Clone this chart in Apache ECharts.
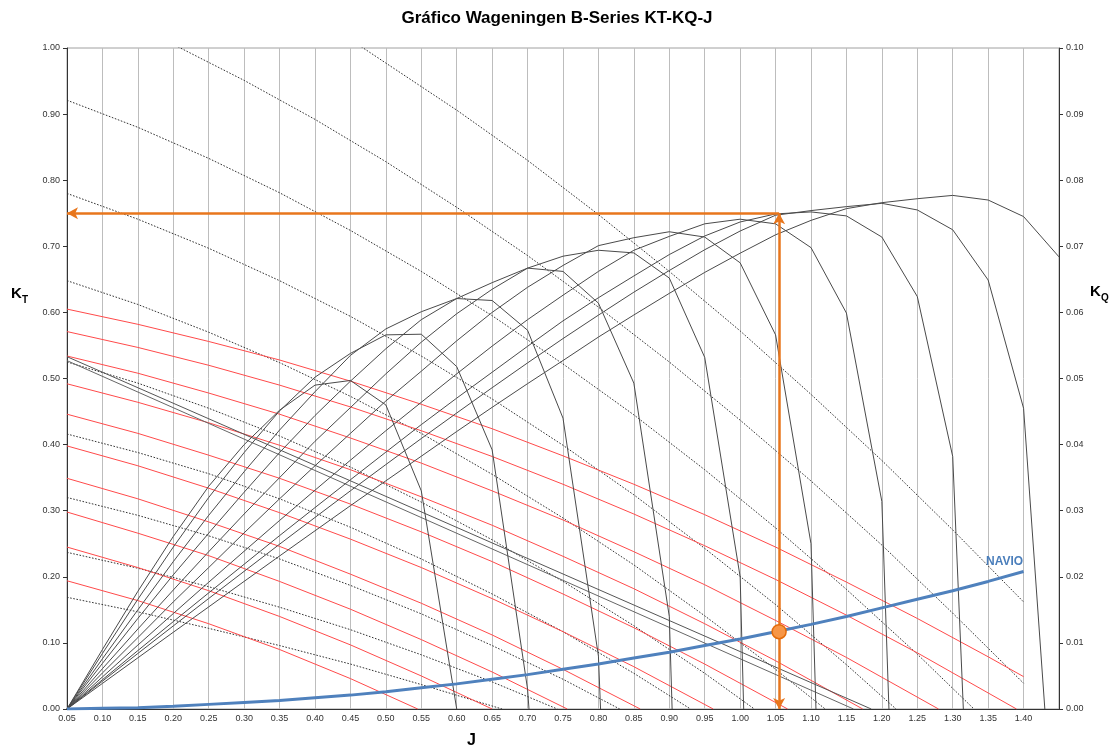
<!DOCTYPE html>
<html><head><meta charset="utf-8">
<script src="https://cdn.jsdelivr.net/npm/echarts/dist/echarts.min.js"></script>
<style>html,body{margin:0;padding:0;background:#fff}#c{width:1114px;height:752px}</style>
</head><body><div id="c"></div>
<script>
// ---- KT curves (red) [J, KT]
const KT1 = [[0.05,0.194],[0.15,0.164],[0.25,0.129],[0.35,0.090],[0.45,0.046],[0.545,0]];
const KT2 = [[0.05,0.245],[0.15,0.214],[0.25,0.179],[0.35,0.140],[0.45,0.097],[0.55,0.050],[0.65,0]];
const KT3 = [[0.05,0.298],[0.15,0.266],[0.25,0.232],[0.35,0.193],[0.45,0.151],[0.55,0.105],[0.65,0.056],[0.756,0]];
const KT4 = [[0.05,0.349],[0.15,0.318],[0.25,0.283],[0.35,0.246],[0.45,0.204],[0.55,0.160],[0.65,0.112],[0.75,0.060],[0.859,0]];
const KT5 = [[0.05,0.398],[0.15,0.368],[0.25,0.334],[0.35,0.297],[0.45,0.257],[0.55,0.214],[0.65,0.167],[0.75,0.117],[0.85,0.064],[0.962,0]];
const KT6 = [[0.05,0.446],[0.15,0.417],[0.25,0.384],[0.35,0.349],[0.45,0.310],[0.55,0.268],[0.65,0.223],[0.75,0.174],[0.85,0.123],[0.95,0.068],[1.067,0]];
const KT7 = [[0.05,0.492],[0.15,0.464],[0.25,0.433],[0.35,0.399],[0.45,0.362],[0.55,0.321],[0.65,0.278],[0.75,0.231],[0.85,0.182],[0.95,0.129],[1.05,0.073],[1.173,0]];
const KT8 = [[0.05,0.534],[0.15,0.508],[0.25,0.478],[0.35,0.446],[0.45,0.410],[0.55,0.372],[0.65,0.330],[0.75,0.286],[0.85,0.238],[0.95,0.188],[1.05,0.134],[1.15,0.078],[1.28,0]];
const KT9 = [[0.05,0.571],[0.15,0.547],[0.25,0.520],[0.35,0.490],[0.45,0.457],[0.55,0.421],[0.65,0.382],[0.75,0.340],[0.85,0.295],[0.95,0.247],[1.05,0.196],[1.15,0.142],[1.25,0.085],[1.39,0]];
const KT10 = [[0.05,0.605],[0.15,0.582],[0.25,0.556],[0.35,0.528],[0.45,0.496],[0.55,0.461],[0.65,0.424],[0.75,0.383],[0.85,0.340],[0.95,0.294],[1.05,0.245],[1.15,0.192],[1.25,0.137],[1.35,0.079],[1.40,0.049]];

// ---- 10KQ curves (dotted) [J, 10KQ]
const KQ1 = [[0.05,0.169],[0.15,0.147],[0.25,0.122],[0.35,0.096],[0.45,0.068],[0.55,0.037],[0.664,0]];
const KQ2 = [[0.05,0.237],[0.15,0.213],[0.25,0.185],[0.35,0.154],[0.45,0.120],[0.55,0.082],[0.65,0.041],[0.742,0]];
const KQ3 = [[0.05,0.320],[0.15,0.293],[0.25,0.262],[0.35,0.227],[0.45,0.187],[0.55,0.144],[0.65,0.096],[0.75,0.045],[0.83,0]];
const KQ4 = [[0.05,0.416],[0.15,0.388],[0.25,0.356],[0.35,0.318],[0.45,0.275],[0.55,0.227],[0.65,0.174],[0.75,0.117],[0.85,0.054],[0.93,0]];
const KQ5 = [[0.05,0.525],[0.15,0.493],[0.25,0.455],[0.35,0.413],[0.45,0.366],[0.55,0.313],[0.65,0.256],[0.75,0.193],[0.85,0.126],[0.95,0.054],[1.02,0]];
const KQ6 = [[0.05,0.648],[0.15,0.612],[0.25,0.570],[0.35,0.524],[0.45,0.473],[0.55,0.417],[0.65,0.355],[0.75,0.289],[0.85,0.218],[0.95,0.141],[1.05,0.060],[1.12,0]];
const KQ7 = [[0.05,0.780],[0.15,0.741],[0.25,0.697],[0.35,0.648],[0.45,0.594],[0.55,0.534],[0.65,0.469],[0.75,0.399],[0.85,0.324],[0.95,0.243],[1.05,0.158],[1.15,0.067],[1.22,0]];
const KQ8 = [[0.05,0.921],[0.15,0.880],[0.25,0.833],[0.35,0.781],[0.45,0.724],[0.55,0.662],[0.65,0.595],[0.75,0.522],[0.85,0.445],[0.95,0.362],[1.05,0.274],[1.15,0.181],[1.25,0.083],[1.33,0]];
const KQ9 = [[0.05,1.077],[0.15,1.030],[0.21,1.0],[0.30,0.951],[0.40,0.892],[0.50,0.828],[0.60,0.759],[0.70,0.686],[0.80,0.608],[0.90,0.525],[1.00,0.437],[1.10,0.345],[1.20,0.248],[1.30,0.145],[1.40,0.039]];
const KQ10 = [[0.40,1.045],[0.468,1.0],[0.60,0.906],[0.70,0.830],[0.80,0.748],[0.90,0.662],[1.00,0.572],[1.10,0.476],[1.20,0.376],[1.30,0.271],[1.40,0.162]];

// ---- efficiency curves (solid dark) [J, eta]
const ETA1 = [[0.05,0],[0.10,0.090],[0.15,0.178],[0.20,0.261],[0.25,0.337],[0.30,0.400],[0.35,0.452],[0.40,0.490],[0.45,0.497],[0.50,0.460],[0.55,0.330],[0.60,0]];
const ETA2 = [[0.05,0],[0.10,0.084],[0.15,0.166],[0.20,0.245],[0.25,0.320],[0.30,0.388],[0.35,0.451],[0.40,0.502],[0.45,0.538],[0.50,0.566],[0.55,0.567],[0.60,0.518],[0.65,0.392],[0.70,0.030],[0.702,0]];
const ETA3 = [[0.05,0],[0.10,0.076],[0.15,0.150],[0.20,0.223],[0.25,0.293],[0.30,0.359],[0.35,0.422],[0.40,0.480],[0.45,0.535],[0.50,0.575],[0.55,0.601],[0.60,0.621],[0.65,0.618],[0.70,0.573],[0.75,0.440],[0.80,0.080],[0.803,0]];
const ETA4 = [[0.05,0],[0.10,0.069],[0.15,0.137],[0.20,0.203],[0.25,0.266],[0.30,0.328],[0.35,0.388],[0.40,0.444],[0.45,0.496],[0.50,0.545],[0.55,0.589],[0.60,0.621],[0.65,0.645],[0.70,0.667],[0.75,0.662],[0.80,0.614],[0.85,0.493],[0.90,0.140],[0.904,0]];
const ETA5 = [[0.05,0],[0.10,0.061],[0.15,0.121],[0.20,0.180],[0.25,0.238],[0.30,0.295],[0.35,0.350],[0.40,0.405],[0.45,0.456],[0.50,0.507],[0.55,0.555],[0.60,0.598],[0.65,0.635],[0.70,0.667],[0.75,0.685],[0.80,0.694],[0.85,0.690],[0.90,0.652],[0.95,0.532],[1.00,0.200],[1.005,0]];
const ETA6 = [[0.05,0],[0.10,0.0545],[0.15,0.108],[0.20,0.162],[0.25,0.214],[0.30,0.2665],[0.35,0.318],[0.40,0.368],[0.45,0.417],[0.50,0.466],[0.55,0.511],[0.60,0.557],[0.65,0.600],[0.70,0.638],[0.75,0.671],[0.80,0.701],[0.85,0.713],[0.90,0.722],[0.95,0.714],[1.00,0.675],[1.05,0.566],[1.10,0.250],[1.107,0]];
const ETA7 = [[0.05,0],[0.10,0.0485],[0.15,0.0967],[0.20,0.1444],[0.25,0.1918],[0.30,0.2387],[0.35,0.2852],[0.40,0.331],[0.45,0.3764],[0.50,0.421],[0.55,0.464],[0.60,0.507],[0.65,0.549],[0.70,0.589],[0.75,0.626],[0.80,0.662],[0.85,0.694],[0.90,0.715],[0.95,0.734],[1.00,0.741],[1.05,0.734],[1.10,0.698],[1.15,0.599],[1.20,0.314],[1.21,0]];
const ETA8 = [[0.05,0],[0.10,0.0443],[0.15,0.0884],[0.20,0.1322],[0.25,0.1757],[0.30,0.219],[0.35,0.2623],[0.40,0.3047],[0.45,0.3468],[0.50,0.3886],[0.55,0.4302],[0.60,0.4703],[0.65,0.5095],[0.70,0.5487],[0.75,0.5872],[0.80,0.6222],[0.85,0.6551],[0.90,0.6875],[0.95,0.7156],[1.00,0.7368],[1.05,0.749],[1.10,0.752],[1.15,0.746],[1.20,0.714],[1.25,0.624],[1.30,0.382],[1.315,0]];
const ETA9 = [[0.05,0],[0.10,0.0421],[0.15,0.084],[0.20,0.1257],[0.25,0.1672],[0.30,0.2083],[0.35,0.2493],[0.40,0.2898],[0.45,0.3301],[0.50,0.3698],[0.55,0.4092],[0.60,0.4478],[0.65,0.4861],[0.70,0.5236],[0.75,0.5604],[0.80,0.5959],[0.85,0.6306],[0.90,0.6634],[0.95,0.6948],[1.00,0.7231],[1.05,0.747],[1.10,0.754],[1.15,0.760],[1.20,0.765],[1.25,0.755],[1.30,0.725],[1.35,0.649],[1.40,0.455],[1.43,0]];
const ETA10 = [[0.05,0],[0.10,0.0387],[0.15,0.0774],[0.20,0.1161],[0.25,0.1545],[0.30,0.1931],[0.35,0.2315],[0.40,0.2696],[0.45,0.3076],[0.50,0.3452],[0.55,0.3824],[0.60,0.4198],[0.65,0.4564],[0.70,0.4922],[0.75,0.5272],[0.80,0.5627],[0.85,0.5961],[0.90,0.6288],[0.95,0.6605],[1.00,0.6896],[1.05,0.7174],[1.10,0.7392],[1.15,0.757],[1.20,0.766],[1.25,0.772],[1.30,0.777],[1.35,0.770],[1.40,0.745],[1.45,0.684]];

// ---- straight solid reference lines
const LINE_A = [[0.05,0.533],[1.185,0]];
const LINE_B = [[0.05,0.527],[1.16,0]];

// ---- ship (NAVIO) curve
const NAVIO_J  = [0.05,0.10,0.15,0.20,0.25,0.30,0.35,0.40,0.45,0.50,0.55,0.60,0.65,0.70,0.75,0.80,0.85,0.90,0.95,1.00,1.05,1.10,1.15,1.20,1.25,1.30,1.35,1.40];
const NAVIO_KT = [0.000,0.001,0.002,0.004,0.007,0.010,0.013,0.017,0.021,0.026,0.032,0.038,0.045,0.052,0.060,0.068,0.077,0.086,0.096,0.106,0.117,0.128,0.140,0.153,0.166,0.179,0.193,0.208];

// ---- operating point
const OP_J = 1.055, OP_KT = 0.117, OP_ETA = 0.75;

const KT_SETS = [KT1,KT2,KT3,KT4,KT5,KT6,KT7,KT8,KT9,KT10];
const KQ_SETS = [KQ1,KQ2,KQ3,KQ4,KQ5,KQ6,KQ7,KQ8,KQ9,KQ10];
const ETA_SETS = [ETA1,ETA2,ETA3,ETA4,ETA5,ETA6,ETA7,ETA8,ETA9,ETA10];

const FONT = 'Liberation Sans, Arial, sans-serif';
const series = [];
function ln(name, data, color, width, type) {
  series.push({name, type:'line', data, showSymbol:false, symbol:'none', silent:true,
    lineStyle:{color, width, type: type||'solid'}, z: 2});
}
KQ_SETS.forEach((d,i)=>ln('10KQ '+(i+1), d, '#333', 1, [1.6,1.6]));
KT_SETS.forEach((d,i)=>ln('KT '+(i+1), d, '#ff4a4a', 1));
ln('ref A', LINE_A, '#555', 1);
ln('ref B', LINE_B, '#666', 1);
ETA_SETS.forEach((d,i)=>ln('eta '+(i+1), d, '#4a4a4a', 1));

const navioData = NAVIO_J.map((j,i)=>[j, NAVIO_KT[i]]);
series.push({name:'NAVIO', type:'line', data: navioData, showSymbol:false, symbol:'none', silent:true,
  lineStyle:{color:'#4F81BD', width:3}, z:5});
series.push({name:'NAVIO label', type:'scatter', data:[navioData[navioData.length-1]], symbolSize:0,
  itemStyle:{color:'#4F81BD', opacity:1}, silent:true, z:6,
  label:{show:true, formatter:'NAVIO', position:'top', distance:4, offset:[-19,0], color:'#4A7EBB',
    fontWeight:'bold', fontSize:12, fontFamily:FONT, opacity:1}});

series.push({name:'punto', type:'scatter', data:[[OP_J, OP_KT]], symbolSize:14, silent:true, z:10,
  itemStyle:{color:'#F79646', borderColor:'#E46C0A', borderWidth:1.5, opacity:1},
  markLine:{silent:true, symbol:['none','arrow'], symbolSize:[9,11], label:{show:false}, z:8,
    lineStyle:{color:'#E8761C', width:2.5, type:'solid'}, animation:false,
    data:[
      [{coord:[OP_J, OP_KT]}, {coord:[OP_J, OP_ETA]}],
      [{coord:[OP_J, OP_ETA]}, {coord:[0.05, OP_ETA]}],
      [{coord:[OP_J, OP_KT]}, {coord:[OP_J, 0]}]
    ]}
});

const chart = echarts.init(document.getElementById('c'));
chart.setOption({
  animation:false,
  backgroundColor:'#fff',
  title:{text:'Gráfico Wageningen B-Series KT-KQ-J', left:'center', top:5,
    textStyle:{fontSize:17, fontWeight:'bold', color:'#000', fontFamily:FONT}},
  grid:{left:67, right:55, top:48, bottom:43, show:true, borderColor:'#a0a0a0', borderWidth:1},
  xAxis:{type:'value', min:0.05, max:1.45, interval:0.05,
    axisLine:{lineStyle:{color:'#333'}}, axisTick:{show:false},
    axisLabel:{fontSize:9, color:'#333', margin:5, fontFamily:FONT,
      formatter:v=> v>1.42 ? '' : v.toFixed(2)},
    splitLine:{show:true, lineStyle:{color:'#bdbdbd', width:1}}},
  yAxis:[
    {type:'value', min:0, max:1, interval:0.1, position:'left',
      axisLine:{show:true, lineStyle:{color:'#333'}}, axisTick:{show:true, length:4, lineStyle:{color:'#333'}},
      axisLabel:{fontSize:9, color:'#333', margin:7, fontFamily:FONT, formatter:v=>v.toFixed(2)},
      splitLine:{show:false}},
    {type:'value', min:0, max:0.1, interval:0.01, position:'right',
      axisLine:{show:true, lineStyle:{color:'#333'}}, axisTick:{show:true, length:4, lineStyle:{color:'#333'}},
      axisLabel:{fontSize:9, color:'#333', margin:7, fontFamily:FONT, formatter:v=>v.toFixed(2)},
      splitLine:{show:false}}
  ],
  graphic:[
    {type:'text', left:11, top:286, style:{text:'K', fontSize:15, fontWeight:'bold', fill:'#000', fontFamily:FONT}},
    {type:'text', left:22, top:295, style:{text:'T', fontSize:10, fontWeight:'bold', fill:'#000', fontFamily:FONT}},
    {type:'text', left:1090, top:284, style:{text:'K', fontSize:15, fontWeight:'bold', fill:'#000', fontFamily:FONT}},
    {type:'text', left:1101, top:293, style:{text:'Q', fontSize:10, fontWeight:'bold', fill:'#000', fontFamily:FONT}},
    {type:'text', left:467, top:733, style:{text:'J', fontSize:16, fontWeight:'bold', fill:'#000', fontFamily:FONT}}
  ],
  series
});
</script></body></html>
